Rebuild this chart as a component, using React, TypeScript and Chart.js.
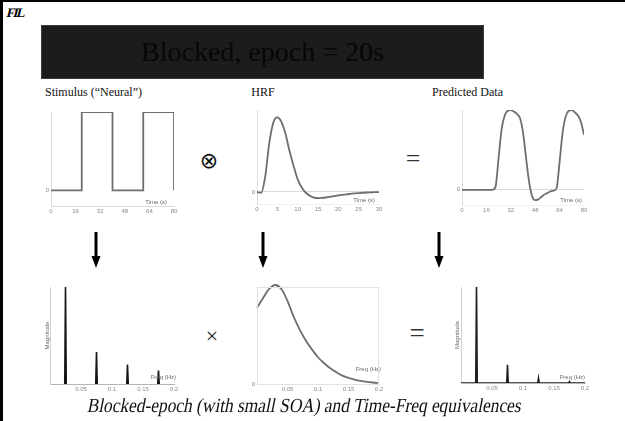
import React, { useEffect, useRef } from 'react';
import { Chart, registerables } from 'chart.js';

Chart.register(...registerables);

// ---------------- data ----------------
const stimTimes = [0, 20, 40, 60, 80];
const stimValues = [0, 1, 0, 1, 0];
const blockTimeTicks = [0, 16, 32, 48, 64, 80];

const hrfTimes = [0, 1, 2, 3, 4, 5, 6, 7, 8, 9, 10, 11, 12, 13, 14, 15, 16, 17, 18, 19, 20, 21, 22, 23, 24, 25, 26, 27, 28, 29, 30];
const hrfValues = [0, -0.01, 0.2, 0.65, 0.93, 1.0, 0.94, 0.78, 0.55, 0.35, 0.17, 0.06, -0.01, -0.05, -0.075, -0.082, -0.08, -0.074, -0.065, -0.055, -0.046, -0.038, -0.031, -0.025, -0.019, -0.014, -0.01, -0.007, -0.005, -0.003, -0.002];
const hrfTimeTicks = [0, 5, 10, 15, 20, 25, 30];

const predTimes = [0, 2, 4, 6, 8, 10, 12, 14, 16, 18, 20, 22, 24, 26, 28, 30, 32, 34, 36, 38, 40, 42, 44, 46, 48, 50, 52, 54, 56, 58, 60, 62, 64, 66, 68, 70, 72, 74, 76, 78, 80];
const predValues = [0, 0, 0, 0, 0, 0, 0, 0, 0, 0, 0, 0.04, 0.4, 0.76, 0.93, 0.99, 1.0, 0.98, 0.95, 0.9, 0.72, 0.4, 0.1, -0.08, -0.13, -0.12, -0.09, -0.06, -0.04, -0.02, -0.01, 0.02, 0.35, 0.72, 0.92, 0.99, 1.0, 0.97, 0.93, 0.85, 0.69];

const freqTicks = [0.05, 0.1, 0.15, 0.2];
const stimHarmonics = [0.025, 0.075, 0.125, 0.175];
const stimMagnitudes = [1, 0.33, 0.2, 0.14];

const hrfFreqs = [0, 0.01, 0.02, 0.03, 0.04, 0.05, 0.06, 0.07, 0.08, 0.09, 0.1, 0.11, 0.12, 0.13, 0.14, 0.15, 0.16, 0.17, 0.18, 0.19, 0.2];
const hrfSpectrum = [0.77, 0.87, 0.96, 1.0, 0.96, 0.84, 0.68, 0.55, 0.44, 0.35, 0.27, 0.21, 0.16, 0.12, 0.085, 0.062, 0.045, 0.032, 0.022, 0.015, 0.01];

const predMagnitudes = [1, 0.19, 0.05, 0.015];

// ---------------- helpers ----------------
const TICK_FONT = { family: 'Liberation Sans', size: 6 };
const TICK_COLOR = '#8a8a8a';

const axisNote = {
  id: 'axisNote',
  afterDraw(chart: any, _args: any, opts: any) {
    if (!opts || !opts.text) return;
    const { ctx, chartArea } = chart;
    ctx.save();
    ctx.font = `${opts.size || 6}px "Liberation Sans"`;
    ctx.fillStyle = opts.color || '#6a6a6a';
    ctx.textAlign = 'right';
    ctx.textBaseline = 'middle';
    ctx.fillText(opts.text, chartArea.right + opts.dx, chartArea.bottom + opts.dy);
    ctx.restore();
  },
};

const frame = {
  id: 'frame',
  afterDraw(chart: any, _args: any, opts: any) {
    if (!opts || !opts.show) return;
    const { ctx, chartArea } = chart;
    ctx.save();
    ctx.strokeStyle = opts.color;
    ctx.lineWidth = 1;
    ctx.strokeRect(chartArea.left + 0.5, chartArea.top + 0.5, chartArea.right - chartArea.left - 1, chartArea.bottom - chartArea.top);
    ctx.restore();
  },
};

function xScale(min: number, max: number, ticks: number[], h: number, axisColor: string) {
  return {
    type: 'linear',
    min,
    max,
    afterBuildTicks: (s: any) => {
      s.ticks = ticks.map((v) => ({ value: v }));
    },
    afterFit: (s: any) => {
      s.height = h;
    },
    grid: { display: false, drawTicks: false },
    border: { display: true, color: axisColor, width: 1 },
    ticks: {
      autoSkip: false,
      maxRotation: 0,
      padding: 2,
      font: TICK_FONT,
      color: TICK_COLOR,
      callback: (v: any) => String(+Number(v).toFixed(3)),
    },
  };
}

function yScale(min: number, max: number, ticks: number[], w: number, axisColor: string, gridColor: string | null, title?: string, titlePad?: number) {
  return {
    type: 'linear',
    min,
    max,
    afterBuildTicks: (s: any) => {
      s.ticks = ticks.map((v) => ({ value: v }));
    },
    afterFit: (s: any) => {
      s.width = w;
    },
    grid: { display: !!gridColor, color: gridColor || 'transparent', drawTicks: false },
    border: { display: true, color: axisColor, width: 1 },
    ticks: {
      display: ticks.length > 0,
      padding: 2,
      font: TICK_FONT,
      color: TICK_COLOR,
      callback: (v: any) => String(v),
    },
    title: title
      ? { display: true, text: title, font: { family: 'Liberation Sans', size: 6 }, color: '#6a6a6a', padding: { top: titlePad || 0, bottom: 0 } }
      : { display: false },
  };
}

function pts(xs: number[], ys: number[]) {
  return xs.map((x, i) => ({ x, y: ys[i] }));
}

function spikeSeries(freqs: number[], mags: number[], half: number, joined: boolean, xmax: number) {
  const out: any[] = [];
  if (joined) out.push({ x: 0, y: 0 });
  freqs.forEach((f, i) => {
    out.push({ x: f - half, y: 0 }, { x: f, y: mags[i] }, { x: f + half, y: 0 });
    if (!joined) out.push({ x: f + half, y: null });
  });
  if (joined) out.push({ x: xmax, y: 0 });
  return out;
}

interface Spec {
  area: { left: number; top: number; right: number; bottom: number };
  yW: number;
  xH: number;
  padTop: number;
  padRight: number;
  build: () => any;
}

const TOP_AXIS = '#dcdcdc';
const BOT_AXIS = '#b5b5b5';
const CURVE = '#6e6e6e';

const specs: Spec[] = [
  {
    area: { left: 51, top: 112, right: 174, bottom: 206 },
    yW: 10, xH: 12, padTop: 6, padRight: 10,
    build: () => ({
      type: 'line',
      data: {
        datasets: [{ data: pts(stimTimes, stimValues), stepped: 'before', borderColor: CURVE, borderWidth: 1.8, pointRadius: 0, fill: false }],
      },
      options: {
        scales: { x: xScale(0, 80, blockTimeTicks, 12, TOP_AXIS), y: yScale(-0.2, 1, [0], 10, TOP_AXIS, null) },
        plugins: { axisNote: { text: 'Time (s)', dx: -7, dy: -4 } },
      },
    }),
  },
  {
    area: { left: 257, top: 110, right: 379, bottom: 204 },
    yW: 10, xH: 12, padTop: 6, padRight: 10,
    build: () => ({
      type: 'line',
      data: {
        datasets: [{ data: pts(hrfTimes, hrfValues), borderColor: CURVE, borderWidth: 1.8, pointRadius: 0, fill: false, cubicInterpolationMode: 'monotone' }],
      },
      options: {
        scales: { x: xScale(0, 30, hrfTimeTicks, 12, '#f2f2f2'), y: yScale(-0.161, 1.1, [0], 10, TOP_AXIS, TOP_AXIS) },
        plugins: { axisNote: { text: 'Time (s)', dx: -4, dy: -4 } },
      },
    }),
  },
  {
    area: { left: 462, top: 110, right: 584, bottom: 205 },
    yW: 10, xH: 12, padTop: 6, padRight: 10,
    build: () => ({
      type: 'line',
      data: {
        datasets: [{ data: pts(predTimes, predValues), borderColor: CURVE, borderWidth: 1.8, pointRadius: 0, fill: false, cubicInterpolationMode: 'monotone' }],
      },
      options: {
        scales: { x: xScale(0, 80, blockTimeTicks, 12, '#f2f2f2'), y: yScale(-0.19, 1, [0], 10, TOP_AXIS, TOP_AXIS) },
        plugins: { axisNote: { text: 'Time (s)', dx: -2, dy: -5 } },
      },
    }),
  },
  {
    area: { left: 50, top: 287, right: 174, bottom: 384 },
    yW: 8, xH: 12, padTop: 6, padRight: 10,
    build: () => ({
      type: 'line',
      data: {
        datasets: [{ data: spikeSeries(stimHarmonics, stimMagnitudes, 0.0012, false, 0.2), borderColor: '#151515', borderWidth: 1.6, pointRadius: 0, fill: false, spanGaps: false }],
      },
      options: {
        scales: { x: xScale(0, 0.2, freqTicks, 12, BOT_AXIS), y: yScale(0, 1, [], 8, '#d0d0d0', null, 'Magnitude', 1.4) },
        plugins: { axisNote: { text: 'Freq (Hz)', dx: 2, dy: -7 } },
      },
    }),
  },
  {
    area: { left: 257, top: 287, right: 379, bottom: 384 },
    yW: 10, xH: 12, padTop: 6, padRight: 10,
    build: () => ({
      type: 'line',
      data: {
        datasets: [{ data: pts(hrfFreqs, hrfSpectrum), borderColor: CURVE, borderWidth: 1.8, pointRadius: 0, fill: false, cubicInterpolationMode: 'monotone', clip: false }],
      },
      options: {
        scales: { x: xScale(0, 0.2, freqTicks, 12, '#d8d8d8'), y: yScale(0, 0.98, [0], 10, '#e2e2e2', null) },
        plugins: { axisNote: { text: 'Freq (Hz)', dx: 2, dy: -15 }, frame: { show: true, color: '#e2e2e2' } },
      },
    }),
  },
  {
    area: { left: 461, top: 287, right: 585, bottom: 383 },
    yW: 8, xH: 12, padTop: 6, padRight: 10,
    build: () => ({
      type: 'line',
      data: {
        datasets: [{ data: spikeSeries(stimHarmonics, predMagnitudes, 0.0012, true, 0.2), borderColor: '#1e1e1e', borderWidth: 1.6, pointRadius: 0, fill: false }],
      },
      options: {
        scales: { x: xScale(0, 0.2, freqTicks, 12, BOT_AXIS), y: yScale(0, 1, [], 8, '#d0d0d0', null, 'Magnitude', 0.4) },
        plugins: { axisNote: { text: 'Freq (Hz)', dx: 0, dy: -6 } },
      },
    }),
  },
];

function canvasBox(s: Spec) {
  const w = s.area.right - s.area.left + s.yW + s.padRight;
  const h = s.area.bottom - s.area.top + s.padTop + s.xH;
  return { left: s.area.left - s.yW, top: s.area.top - s.padTop, width: w, height: h };
}

const serif = '"Liberation Serif", "Times New Roman", serif';

function Label(props: { x: number; y: number; text: string; size: number; color?: string; align?: 'left' | 'center'; font?: string; style?: any; extra?: string }) {
  const { x, y, text, size, color, align, font, style, extra } = props;
  return (
    <div
      style={{
        position: 'absolute',
        left: x,
        top: y,
        transform: (align === 'left' ? 'translate(0,-50%)' : 'translate(-50%,-50%)') + (extra ? ' ' + extra : ''),
        fontFamily: font || serif,
        fontSize: size,
        color: color || '#111',
        whiteSpace: 'nowrap',
        lineHeight: 1,
        ...style,
      }}
    >
      {text}
    </div>
  );
}

const CAPTION_WIDTH = 434;

export default function App() {
  const refs = useRef<(HTMLCanvasElement | null)[]>([]);
  const capRef = useRef<HTMLDivElement | null>(null);

  useEffect(() => {
    const cap = capRef.current;
    if (cap) {
      const w = cap.offsetWidth;
      const k = w > 0 ? CAPTION_WIDTH / w : 1;
      cap.style.transform = `translate(-50%,-50%) scaleX(${k}) skewX(-13deg)`;
    }
    const charts: Chart[] = [];
    specs.forEach((s, i) => {
      const cv = refs.current[i];
      if (!cv) return;
      const cfg = s.build();
      cfg.plugins = [axisNote, frame];
      cfg.options = {
        ...cfg.options,
        animation: false,
        responsive: false,
        maintainAspectRatio: false,
        devicePixelRatio: 1,
        layout: { padding: { top: s.padTop, right: s.padRight, left: 0, bottom: 0 } },
        plugins: { legend: { display: false }, tooltip: { enabled: false }, title: { display: false }, ...cfg.options.plugins },
        events: [],
      };
      charts.push(new Chart(cv, cfg));
    });
    return () => charts.forEach((c) => c.destroy());
  }, []);

  const arrows = [96, 263, 439];

  return (
    <div style={{ position: 'fixed', left: 0, top: 0, width: 625, height: 421, background: '#fff', overflow: 'hidden' }}>
      {/* slide border */}
      <div style={{ position: 'absolute', left: 0, top: 0, width: 3, height: 421, background: '#000' }} />
      <div style={{ position: 'absolute', left: 0, top: 0, width: 625, height: 2, background: '#000' }} />

      {/* logo */}
      <Label x={7} y={12} text="FIL" size={13} align="left" color="#000" font='"Liberation Serif"' style={{ fontWeight: 700, letterSpacing: -1.4 }} extra="skewX(-14deg)" />

      {/* title box */}
      <div
        style={{
          position: 'absolute',
          left: 41,
          top: 25,
          width: 443,
          height: 54,
          boxSizing: 'border-box',
          background: '#1c1c1c',
          border: '1px solid #3c3c3c',
          color: '#070707',
          fontFamily: serif,
          fontSize: 28,
          lineHeight: '52px',
          textAlign: 'center',
        }}
      >
        Blocked, epoch = 20s
      </div>

      <Label x={45} y={92} text="Stimulus (“Neural”)" size={12} align="left" />
      <Label x={263} y={92} text="HRF" size={12} />
      <Label x={432} y={92} text="Predicted Data" size={12} align="left" />

      {specs.map((s, i) => {
        const b = canvasBox(s);
        return (
          <canvas
            key={i}
            ref={(el) => {
              refs.current[i] = el;
            }}
            width={b.width}
            height={b.height}
            style={{ position: 'absolute', left: b.left, top: b.top, width: b.width, height: b.height }}
          />
        );
      })}

      {/* operators */}
      <Label x={209} y={161} text="⊗" size={22} font='"DejaVu Sans", sans-serif' color="#111" />
      <Label x={413} y={159} text="=" size={26} color="#333" />
      <Label x={212} y={336} text="×" size={22} color="#222" />
      <Label x={417} y={333} text="=" size={27} color="#333" />

      {/* arrows */}
      <svg width={625} height={421} style={{ position: 'absolute', left: 0, top: 0 }}>
        {arrows.map((x, i) => (
          <g key={i}>
            <rect x={x - 1.5} y={232} width={3} height={26} fill="#000" />
            <polygon points={`${x - 4.5},${256} ${x + 4.5},${256} ${x},${268}`} fill="#000" />
          </g>
        ))}
      </svg>

      {/* caption */}
      <div
        ref={capRef}
        style={{
          position: 'absolute',
          left: 305,
          top: 405,
          transform: 'translate(-50%,-50%)',
          fontFamily: serif,
          fontSize: 20,
          color: '#111',
          whiteSpace: 'nowrap',
          lineHeight: 1,
        }}
      >
        Blocked-epoch (with small SOA) and Time-Freq equivalences
      </div>
    </div>
  );
}
